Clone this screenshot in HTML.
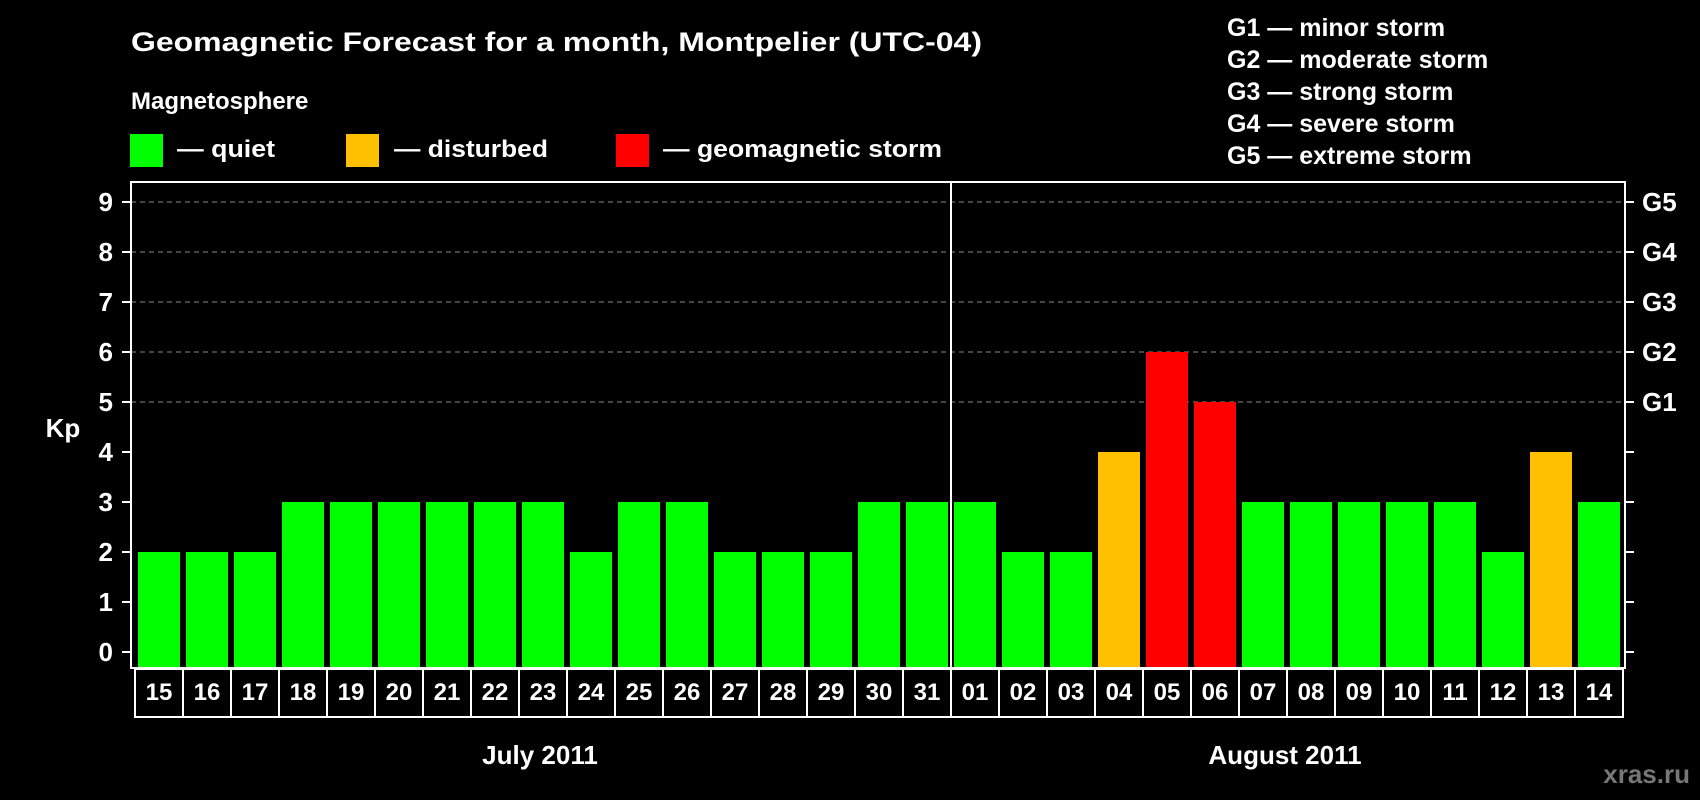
<!DOCTYPE html>
<html><head><meta charset="utf-8"><style>
html,body{margin:0;padding:0;background:#000;}
svg{display:block;font-family:"Liberation Sans",Arial,sans-serif;font-weight:bold;}
</style></head><body>
<svg id="chart" width="1700" height="800" viewBox="0 0 1700 800">
<text x="131" y="51" font-size="27" fill="#fff" textLength="851" lengthAdjust="spacingAndGlyphs">Geomagnetic Forecast for a month, Montpelier (UTC-04)</text>
<text x="131" y="109" font-size="24" fill="#fff">Magnetosphere</text>
<g><rect x="130" y="134" width="33" height="33" fill="#00ff00"/><text x="177" y="157" font-size="24" fill="#fff" textLength="98" lengthAdjust="spacingAndGlyphs">— quiet</text></g>
<g><rect x="346" y="134" width="33" height="33" fill="#ffc000"/><text x="394" y="157" font-size="24" fill="#fff" textLength="154" lengthAdjust="spacingAndGlyphs">— disturbed</text></g>
<g><rect x="616" y="134" width="33" height="33" fill="#ff0000"/><text x="663" y="157" font-size="24" fill="#fff" textLength="279" lengthAdjust="spacingAndGlyphs">— geomagnetic storm</text></g>
<g font-size="25" fill="#fff">
<text x="1227" y="36">G1 — minor storm</text>
<text x="1227" y="68">G2 — moderate storm</text>
<text x="1227" y="100">G3 — strong storm</text>
<text x="1227" y="132">G4 — severe storm</text>
<text x="1227" y="164">G5 — extreme storm</text>
</g>
<text x="63" y="437" font-size="26" fill="#fff" text-anchor="middle">Kp</text>
<g id="grid"></g>
<g id="bars"></g>
<g id="axes"></g>
<text x="540" y="764" font-size="26" fill="#fff" text-anchor="middle">July 2011</text>
<text x="1285" y="764" font-size="26" fill="#fff" text-anchor="middle">August 2011</text>
<text x="1690" y="783" font-size="26" fill="#777" text-anchor="end">xras.ru</text>
</svg>
<script>
const days = ["15","16","17","18","19","20","21","22","23","24","25","26","27","28","29","30","31","01","02","03","04","05","06","07","08","09","10","11","12","13","14"];
const kpValues = [2,2,2,3,3,3,3,3,3,2,3,3,2,2,2,3,3,3,2,2,4,6,5,3,3,3,3,3,2,4,3];
const yTicks = [0,1,2,3,4,5,6,7,8,9];
const gLevels = [5,6,7,8,9];
const gLabels = ["G1","G2","G3","G4","G5"];
const monthBreakIndex = 17;

const NS="http://www.w3.org/2000/svg";
const slotLeft=135, slot=48, plotTop=182, plotBottom=668, plotL=131, plotR=1625;
function xs(i){return slotLeft+i*slot;}
function ys(v){return 652-50*v;}
function mk(t,a,parent){const e=document.createElementNS(NS,t);for(const k in a)e.setAttribute(k,a[k]);parent.appendChild(e);return e;}
const gridG=document.getElementById('grid'), barsG=document.getElementById('bars'), axesG=document.getElementById('axes');

gLevels.forEach((v,i)=>{
  const l=mk('line',{x1:plotL,x2:plotR,y1:ys(v),y2:ys(v),stroke:'#8a8a8a','stroke-width':1,'stroke-dasharray':'5,4'},gridG);
  
  
  const t=mk('text',{x:1642,y:ys(v)+9,'font-size':26,fill:'#fff'},axesG);
  t.textContent=gLabels[i];
  
  
});

kpValues.forEach((v,i)=>{
  const c=v>=5?'#ff0000':(v>=4?'#ffc000':'#00ff00');
  const r=mk('rect',{x:xs(i)+3,y:ys(v),width:42,height:plotBottom-ys(v)-1,fill:c},barsG);
  
  
});

const frame=mk('rect',{x:plotL,y:plotTop,width:plotR-plotL,height:plotBottom-plotTop,fill:'none',stroke:'#fff','stroke-width':2},axesG);


const sep=mk('line',{x1:xs(monthBreakIndex),x2:xs(monthBreakIndex),y1:plotTop,y2:plotBottom,stroke:'#fff','stroke-width':2},axesG);



yTicks.forEach(v=>{
  const tk=mk('line',{x1:122,x2:plotL,y1:ys(v),y2:ys(v),stroke:'#fff','stroke-width':2},axesG);
  
  
  const tr=mk('line',{x1:plotR,x2:1634,y1:ys(v),y2:ys(v),stroke:'#fff','stroke-width':2},axesG);
  
  
  const t=mk('text',{x:113,y:ys(v)+9,'font-size':26,fill:'#fff','text-anchor':'end'},axesG);
  t.textContent=String(v);
  
  
});

days.forEach((d,i)=>{
  const cell=mk('rect',{x:xs(i),y:669,width:slot,height:48,fill:'none',stroke:'#fff','stroke-width':2},axesG);
  
  
  const t=mk('text',{x:xs(i)+slot/2,y:700,'font-size':24,fill:'#fff','text-anchor':'middle'},axesG);
  t.textContent=d;
  
  
});
</script>
</body></html>
